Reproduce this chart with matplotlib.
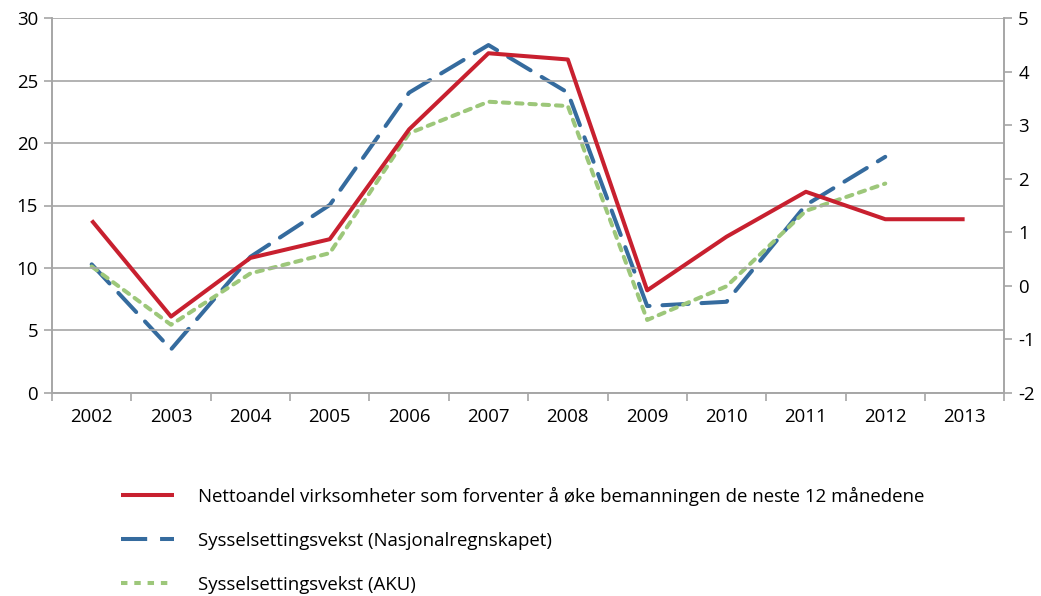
import matplotlib.pyplot as plt
from matplotlib.lines import Line2D
import numpy as np

plt.rcParams['font.family'] = ['Open Sans', 'DejaVu Sans']
plt.rcParams['axes.unicode_minus'] = False

years = ['2002', '2003', '2004', '2005', '2006', '2007', '2008', '2009', '2010', '2011', '2012', '2013']
netto = [13.8, 6.1, 10.8, 12.3, 21.1, 27.2, 26.7, 8.2, 12.5, 16.1, 13.9, 13.9]
nasjonal = [0.40, -1.19, 0.54, 1.51, 3.61, 4.50, 3.61, -0.38, -0.30, 1.51, 2.41]
aku = [0.36, -0.73, 0.23, 0.61, 2.85, 3.44, 3.36, -0.64, -0.01, 1.40, 1.91]

labels = ['Nettoandel virksomheter som forventer å øke bemanningen de neste 12 månedene',
          'Sysselsettingsvekst (Nasjonalregnskapet)',
          'Sysselsettingsvekst (AKU)']

red = '#C8202F'
blue = '#356B9E'
green = '#9DC77A'
grid_col = '#A6A6A6'
fs = 13.4

fig = plt.figure(figsize=(10.41, 5.96), dpi=100)
ax = fig.add_axes([52 / 1041, 1 - 392.7 / 596, (1004.3 - 52) / 1041, (392.7 - 18.3) / 596])
ax2 = ax.twinx()

x = np.arange(len(years))
ax.plot(x, netto, color=red, lw=2.9, solid_capstyle='butt', zorder=3)
ax2.plot(x[:len(nasjonal)], nasjonal, color=blue, lw=2.9, dashes=(6.5, 3.2), dash_capstyle='round')
ax2.plot(x[:len(aku)], aku, color=green, lw=2.9, dashes=(1.6, 1.7), dash_capstyle='round')
ax.set_zorder(ax2.get_zorder() + 1)
ax.patch.set_visible(False)

ax.set_xlim(-0.5, len(years) - 0.5)
ax.set_ylim(0, 30)
ax.set_yticks(range(0, 31, 5))
ax2.set_ylim(-2, 5)
ax2.set_yticks(range(-2, 6))

ax.set_xticks(x)
ax.set_xticklabels(years)
ax.set_xticks(np.arange(-0.5, len(years)), minor=True)
ax.tick_params(axis='x', which='major', length=0, pad=11, labelsize=fs)
ax.tick_params(axis='x', which='minor', length=6, color=grid_col, width=1.2)
ax.tick_params(axis='y', length=6, color=grid_col, width=1.2, labelsize=fs, pad=4)
ax2.tick_params(axis='y', length=6, color=grid_col, width=1.2, labelsize=fs, pad=4)

ax.grid(axis='y', color=grid_col, lw=1.2)
for a in (ax, ax2):
    a.spines['top'].set_visible(False)
    for s in ('left', 'right', 'bottom'):
        a.spines[s].set_color(grid_col)
        a.spines[s].set_linewidth(1.2)

handles = [Line2D([], [], color=red, lw=2.9, solid_capstyle='butt'),
           Line2D([], [], color=blue, lw=2.9, dashes=(6.5, 3.2)),
           Line2D([], [], color=green, lw=2.9, dashes=(1.6, 1.7))]
fig.legend(handles, labels, loc='upper left', bbox_to_anchor=(104 / 1041, 1 - 470 / 596),
           frameon=False, fontsize=fs, handlelength=2.85, handletextpad=1.3, labelspacing=1.4)

fig.savefig('out.png', dpi=100)
